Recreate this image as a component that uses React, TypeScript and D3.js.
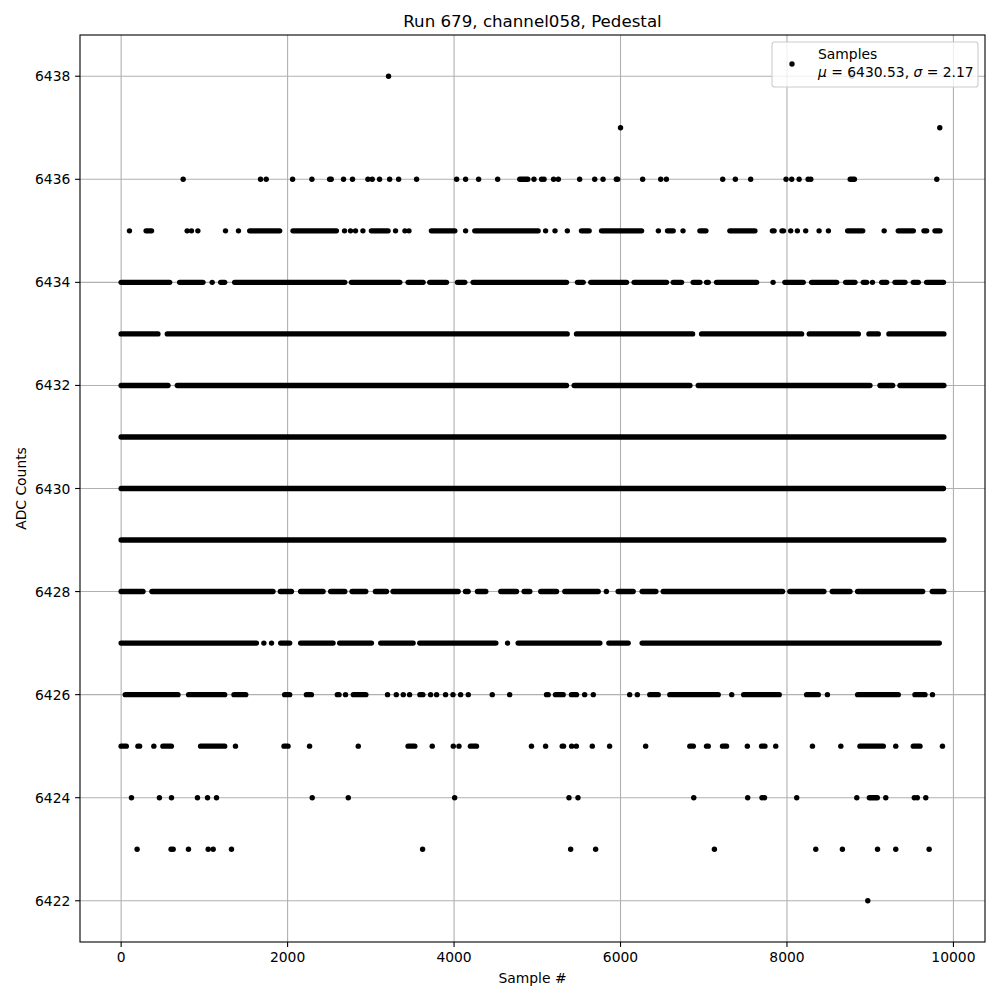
import React from "react";
import * as d3 from "d3";

type Mark = number | [number, number];

const title = "Run 679, channel058, Pedestal";
const xLabel = "Sample #";
const yLabel = "ADC Counts";
const xTicks = [0, 2000, 4000, 6000, 8000, 10000];
const yTicks = [6422, 6424, 6426, 6428, 6430, 6432, 6434, 6436, 6438];
const legendLabel = "Samples";
const muValue = "6430.53";
const sigmaValue = "2.17";

// Samples per ADC level: single numbers are isolated samples, pairs are runs of consecutive samples
const level6438: Mark[] = [3213, 8778];
const level6437: Mark[] = [6000, 9836];
const level6436: Mark[] = [745, 1675, 1743, 2060, 2292, 2505, 2524, 2672, 2780, 2965, 3017, 3105, 3226, 3334, 3550, 4031, 4139, 4295, 4524, [4790, 4886], 4960, 5052, 5081, 5196, 5253, 5509, 5690, 5790, 5950, 5965, 6266, 6483, 6551, 7228, 7380, 7564, 7989, 8057, 8146, 8254, 8286, [8760, 8810], 9800];
const level6435: Mark[] = [100, [300, 365], 793, 845, 922, 1254, 1410, [1545, 1905], [2065, 2586], 2684, 2756, 2816, 2905, [3007, 3207], 3297, 3410, 3458, [3728, 4009], 4139, [4249, 5010], 5100, 5213, 5361, [5531, 5623], [5772, 6253], 6455, [6565, 6633], 6751, [6954, 7026], [7314, 7615], [7825, 7845], [7940, 7958], 8045, 8125, 8225, 8386, 8498, [8729, 8910], 9168, [9337, 9518], [9646, 9678], [9778, 9838]];
const level6434: Mark[] = [[0, 583], [703, 983], 1094, [1196, 1244], [1364, 2687], [2767, 3348], [3448, 3628], [3708, 3909], [4041, 4129], [4229, 5351], [5483, 5551], [5643, 6072], [6164, 6553], [6633, 6733], [6873, 6954], [7034, 7054], [7154, 7635], 7833, [7975, 8195], [8296, 8597], [8705, 8817], [8917, 8957], 9027, [9138, 9198], [9298, 9418], [9518, 9578], [9678, 9880]];
const level6433: Mark[] = [[0, 442], [555, 5359], [5471, 6866], [6974, 8176], [8268, 8857], [8985, 9097], [9225, 9885]];
const level6432: Mark[] = [[0, 563], [675, 5351], [5443, 6834], [6934, 8997], [9118, 9270], [9358, 9885]];
const level6431: Mark[] = [[0, 9885]];
const level6430: Mark[] = [[0, 9880]];
const level6429: Mark[] = [[0, 9885]];
const level6428: Mark[] = [[0, 263], [370, 1825], [1913, 2046], [2157, 2426], [2518, 2687], [2775, 2939], [3055, 3188], [3267, 4049], [4137, 4169], [4281, 4381], [4562, 4750], [4842, 4910], [5042, 5231], [5331, 5732], 5830, [5972, 6152], [6260, 6425], [6513, 7947], [8035, 8444], [8544, 8757], [8849, 9630], [9746, 9885]];
const level6427: Mark[] = [[0, 1625], 1715, 1807, [1917, 2025], [2157, 2546], [2626, 3007], [3119, 3508], [3588, 4502], 4643, [4770, 5752], [5860, 6092], [6260, 9830]];
const level6426: Mark[] = [[50, 683], [811, 1244], [1356, 1497], [1965, 2025], [2226, 2286], [2598, 2618], 2696, [2790, 2940], 3201, 3306, 3390, 3466, [3590, 3625], 3718, 3790, 3898, 3987, 4079, 4171, 4459, 4668, [5111, 5131], [5219, 5311], [5411, 5471], 5569, 5673, 6110, 6202, [6352, 6453], [6593, 7174], 7336, [7480, 7907], [8236, 8376], 8486, [8849, 9337], [9538, 9658], 9748];
const level6425: Mark[] = [[0, 62], [202, 222], 393, [502, 603], [955, 1244], 1374, [1957, 2005], 2264, 2849, [3448, 3528], 3738, 3991, 4059, [4197, 4269], 4930, 5100, [5300, 5315], 5413, 5469, 5661, 5869, 6302, [6833, 6874], [7034, 7054], [7226, 7274], 7524, [7695, 7735], 7865, 8306, 8647, [8877, 9157], 9307, [9518, 9598], 9868];
const level6424: Mark[] = [124, 460, 605, 917, 1038, 1146, 2296, 2729, 4007, 5381, 5489, 6880, 7528, 7700, 7730, 8117, 8839, [8990, 9085], 9187, 9530, 9566, 9668];
const level6423: Mark[] = [192, 600, 625, 809, 1046, 1106, 1326, 3622, 5401, 5701, 7128, 8346, 8666, 9088, 9307, 9708];
const level6422: Mark[] = [8971];

const rows: [number, Mark[]][] = [
  [6438, level6438], [6437, level6437], [6436, level6436], [6435, level6435],
  [6434, level6434], [6433, level6433], [6432, level6432], [6431, level6431],
  [6430, level6430], [6429, level6429], [6428, level6428], [6427, level6427],
  [6426, level6426], [6425, level6425], [6424, level6424], [6423, level6423],
  [6422, level6422],
];

const W = 1000, H = 1000;
const L = 80, R = 985, T = 35, B = 942;
const FONT = "'DejaVu Sans', sans-serif";
const TICK_FS = 13.89;

export default function App() {
  const allX: number[] = [];
  rows.forEach(([, ms]) => ms.forEach((m) => (typeof m === "number" ? allX.push(m) : allX.push(m[0], m[1]))));
  const [xmin, xmax] = d3.extent(allX) as [number, number];
  const xm = (xmax - xmin) * 0.05;
  const ys = rows.map((r) => r[0]);
  const [ymin, ymax] = d3.extent(ys) as [number, number];
  const ym = (ymax - ymin) * 0.05;
  const x = d3.scaleLinear().domain([xmin - xm, xmax + xm]).range([L, R]);
  const y = d3.scaleLinear().domain([ymin - ym, ymax + ym]).range([B, T]);
  const r = 2.7;

  const legW = 206, legH = 45;
  const legX = R - 7 - legW, legY = T + 7;

  return (
    <div style={{ position: "absolute", left: 0, top: 0 }}>
      <svg width={W} height={H} style={{ display: "block", fontFamily: FONT }}>
        <rect x={0} y={0} width={W} height={H} fill="#fff" />
        <defs>
          <clipPath id="plotclip">
            <rect x={L} y={T} width={R - L} height={B - T} />
          </clipPath>
        </defs>
        {/* grid */}
        <g stroke="#b0b0b0" strokeWidth={1.1}>
          {xTicks.map((t) => (
            <line key={"gx" + t} x1={x(t)} x2={x(t)} y1={T} y2={B} />
          ))}
          {yTicks.map((t) => (
            <line key={"gy" + t} x1={L} x2={R} y1={y(t)} y2={y(t)} />
          ))}
        </g>
        {/* samples */}
        <g clipPath="url(#plotclip)">
          {rows.map(([lvl, ms]) =>
            ms.map((m, i) =>
              typeof m === "number" ? (
                <circle key={lvl + "-" + i} cx={x(m)} cy={y(lvl)} r={r} fill="#000" />
              ) : (
                <line
                  key={lvl + "-" + i}
                  x1={x(m[0])}
                  x2={x(m[1])}
                  y1={y(lvl)}
                  y2={y(lvl)}
                  stroke="#000"
                  strokeWidth={r * 2}
                  strokeLinecap="round"
                />
              )
            )
          )}
        </g>
        {/* spines */}
        <rect x={L} y={T} width={R - L} height={B - T} fill="none" stroke="#000" strokeWidth={1.1} />
        {/* x ticks */}
        {xTicks.map((t) => (
          <g key={"xt" + t}>
            <line x1={x(t)} x2={x(t)} y1={B} y2={B + 4.9} stroke="#000" strokeWidth={1.1} />
            <text x={x(t)} y={B + 9.7 + 10.6} fontSize={TICK_FS} textAnchor="middle" fill="#000">
              {t}
            </text>
          </g>
        ))}
        {/* y ticks */}
        {yTicks.map((t) => (
          <g key={"yt" + t}>
            <line x1={L - 4.9} x2={L} y1={y(t)} y2={y(t)} stroke="#000" strokeWidth={1.1} />
            <text x={L - 9.7} y={y(t)} dy="0.36em" fontSize={TICK_FS} textAnchor="end" fill="#000">
              {t}
            </text>
          </g>
        ))}
        {/* labels */}
        <text x={(L + R) / 2} y={983} fontSize={TICK_FS} textAnchor="middle" fill="#000">
          {xLabel}
        </text>
        <text transform={`translate(26,${(T + B) / 2}) rotate(-90)`} fontSize={TICK_FS} textAnchor="middle" fill="#000">
          {yLabel}
        </text>
        <text x={(L + R) / 2} y={T - 8.3} fontSize={16.67} textAnchor="middle" fill="#000">
          {title}
        </text>
        {/* legend */}
        <g>
          <rect x={legX} y={legY} width={legW} height={legH} rx={2.8} ry={2.8} fill="rgba(255,255,255,0.8)" stroke="#cccccc" strokeWidth={1.1} />
          <circle cx={legX + 20} cy={legY + 22} r={r} fill="#000" />
          <text x={legX + 46} y={legY + 16.5} fontSize={TICK_FS} fill="#000">
            {legendLabel}
          </text>
          <text x={legX + 46} y={legY + 35} fontSize={TICK_FS} fill="#000">
            <tspan fontStyle="italic">μ</tspan>
            {` = ${muValue}, `}
            <tspan fontStyle="italic">σ</tspan>
            {` = ${sigmaValue}`}
          </text>
        </g>
      </svg>
    </div>
  );
}
